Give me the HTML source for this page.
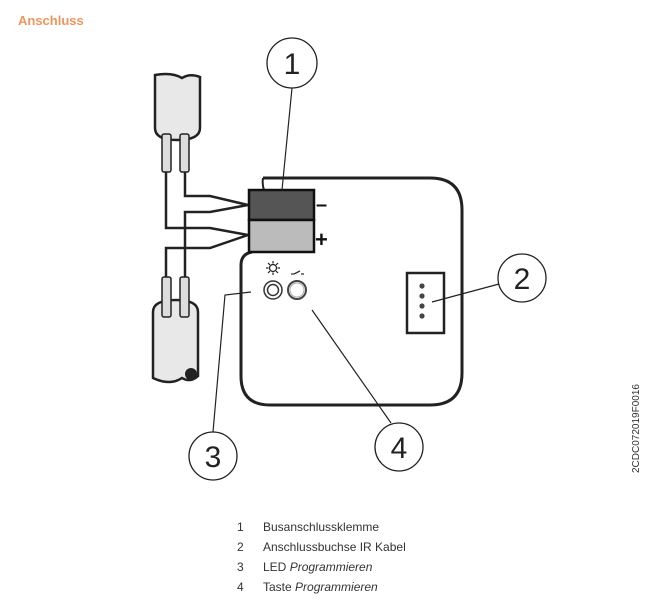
<!DOCTYPE html>
<html><head><meta charset="utf-8"><style>
html,body{margin:0;padding:0;background:#fff;width:671px;height:600px;overflow:hidden}
svg{position:absolute;left:0;top:0}
text{font-family:"Liberation Sans",sans-serif}
</style></head><body>
<svg width="671" height="600" viewBox="0 0 671 600">
<text x="18" y="25" font-size="13" font-weight="bold" fill="#f0955a">Anschluss</text>
<path d="M263,178 H430 Q462,178 462,210 V373 Q462,405 430,405 H270 Q241,405 241,376 V265 Q241,254 252,252" fill="none" stroke="#222" stroke-width="3"/>
<path d="M263,178 Q262,184 264,190" fill="none" stroke="#222" stroke-width="2"/>
<rect x="249" y="190" width="65" height="30" fill="#555" stroke="#111" stroke-width="2.5"/>
<rect x="249" y="220" width="65" height="32" fill="#bbb" stroke="#111" stroke-width="2.5"/>
<text x="316" y="211" font-size="20" font-weight="bold" fill="#111">–</text>
<text x="315" y="247" font-size="22" font-weight="bold" fill="#111">+</text>
<g fill="none" stroke="#222" stroke-width="2.5">
<path d="M185,171 V196 H210 L248,205"/>
<path d="M166,171 V228 H210 L248,235"/>
<path d="M185,278 V212 H210 L248,205"/>
<path d="M166,278 V248 H210 L248,235"/>
</g>
<path d="M155,75 V128 Q155,140 177,140 Q200,140 200,128 V77 Q190,73 182,78 Q172,72 155,75 Z" fill="#e8e8e8" stroke="#222" stroke-width="2.5"/>
<rect x="162" y="134" width="9" height="38" rx="2" fill="#ddd" stroke="#222" stroke-width="1.5"/>
<rect x="180" y="134" width="9" height="38" rx="2" fill="#ddd" stroke="#222" stroke-width="1.5"/>
<path d="M153,312 Q153,300 176,300 Q198,300 198,312 V376 Q190,383 182,378 Q170,386 153,378 Z" fill="#e8e8e8" stroke="#222" stroke-width="2.5"/>
<circle cx="191" cy="374" r="6" fill="#222"/>
<rect x="162" y="277" width="9" height="40" rx="2" fill="#ddd" stroke="#222" stroke-width="1.5"/>
<rect x="180" y="277" width="9" height="40" rx="2" fill="#ddd" stroke="#222" stroke-width="1.5"/>
<circle cx="273" cy="290" r="9" fill="none" stroke="#333" stroke-width="1.5"/>
<circle cx="273" cy="290" r="5.5" fill="none" stroke="#333" stroke-width="1.5"/>
<circle cx="297" cy="290" r="9" fill="none" stroke="#444" stroke-width="2"/>
<circle cx="297" cy="290" r="7" fill="none" stroke="#aaa" stroke-width="1"/>
<g stroke="#222" stroke-width="1.2" fill="none">
<circle cx="273" cy="268" r="3.5"/>
<path d="M273,261 v2.5 M273,272.5 v2.5 M266,268 h2.5 M277.5,268 h2.5 M268,263 l2,2 M276,271 l2,2 M278,263 l-2,2 M270,271 l-2,2"/>
</g>
<path d="M291,274 h3 M294,274 l6,-3 M301,274 h3" stroke="#333" stroke-width="1.3" fill="none"/>
<rect x="407" y="273" width="37" height="60" fill="#fff" stroke="#222" stroke-width="2.5"/>
<g fill="#444"><circle cx="422" cy="286" r="2.6"/><circle cx="422" cy="296" r="2.6"/><circle cx="422" cy="306" r="2.6"/><circle cx="422" cy="316" r="2.6"/></g>
<g stroke="#222" stroke-width="1.2" fill="none">
<path d="M292,88 L282,190"/>
<path d="M432,302 L499,284"/>
<path d="M251,292 L225,295 L213,432"/>
<path d="M312,310 L391,423"/>
</g>
<g fill="#fff" stroke="#222" stroke-width="1.3">
<circle cx="292" cy="63" r="25"/>
<circle cx="522" cy="278" r="24"/>
<circle cx="213" cy="456" r="24"/>
<circle cx="399" cy="447" r="24"/>
</g>
<g font-size="30" fill="#222" text-anchor="middle">
<text x="292" y="74">1</text>
<text x="522" y="289">2</text>
<text x="213" y="467">3</text>
<text x="399" y="458">4</text>
</g>
<text transform="translate(639,473) rotate(-90)" font-size="10" fill="#333">2CDC072019F0016</text>
<g font-size="12" fill="#333">
<text x="237" y="531">1</text><text x="263" y="531">Busanschlussklemme</text>
<text x="237" y="551">2</text><text x="263" y="551">Anschlussbuchse IR Kabel</text>
<text x="237" y="571">3</text><text x="263" y="571">LED <tspan font-style="italic">Programmieren</tspan></text>
<text x="237" y="591">4</text><text x="263" y="591">Taste <tspan font-style="italic">Programmieren</tspan></text>
</g>
</svg>
</body></html>
